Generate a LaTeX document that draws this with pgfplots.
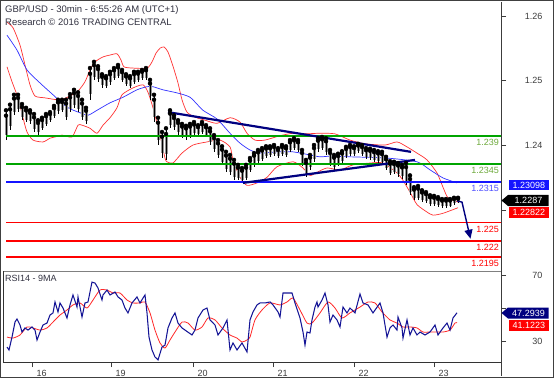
\documentclass[border=0pt]{standalone}
\usepackage{pgfplots}
\usepackage{pgfplotstable}
\pgfplotsset{compat=1.18}
\usepackage{fontspec}
\setmainfont{Liberation Sans}
\usetikzlibrary{arrows.meta}
\definecolor{lvgreen}{RGB}{0,165,0}
\definecolor{lvgreentxt}{RGB}{110,170,60}
\definecolor{lvred}{RGB}{255,0,0}
\definecolor{lvblue}{RGB}{20,20,255}
\definecolor{lvbluetxt}{RGB}{80,80,255}
\definecolor{navy}{RGB}{0,0,128}
\definecolor{bandred}{RGB}{255,50,50}
\definecolor{mablue}{RGB}{50,50,255}
\definecolor{rsiblue}{RGB}{20,20,150}
\definecolor{rsired}{RGB}{255,40,40}
\definecolor{txtdark}{RGB}{50,50,65}
\definecolor{tickgray}{RGB}{60,60,60}
\definecolor{candlegray}{RGB}{150,150,150}

\pgfplotstableread{
t h l
6 1.2431 1.2383
10 1.2440 1.2399
14 1.2456 1.2423
18 1.2456 1.2428
22 1.2441 1.2415
26 1.2435 1.2412
30 1.2431 1.2409
34 1.2425 1.2396
38 1.2415 1.2391
42 1.2419 1.2399
46 1.2425 1.2406
50 1.2428 1.2412
54 1.2438 1.2419
58 1.2448 1.2425
62 1.2448 1.2428
66 1.2448 1.2415
70 1.2457 1.2428
74 1.2464 1.2435
78 1.2460 1.2428
82 1.2448 1.2415
86 1.2435 1.2409
90 1.2499 1.2448
94 1.2509 1.2480
98 1.2502 1.2477
102 1.2489 1.2467
106 1.2486 1.2467
110 1.2493 1.2472
114 1.2499 1.2480
118 1.2504 1.2483
122 1.2496 1.2477
126 1.2489 1.2470
130 1.2486 1.2467
134 1.2493 1.2473
138 1.2493 1.2477
142 1.2496 1.2480
146 1.2499 1.2480
150 1.2480 1.2448
154 1.2456 1.2412
158 1.2419 1.2375
162 1.2396 1.2354
166 1.2402 1.2351
170 1.2431 1.2402
174 1.2423 1.2399
178 1.2415 1.2391
182 1.2409 1.2386
186 1.2406 1.2383
190 1.2409 1.2386
194 1.2412 1.2391
198 1.2407 1.2390
202 1.2412 1.2393
206 1.2407 1.2388
210 1.2402 1.2375
214 1.2391 1.2364
218 1.2383 1.2354
222 1.2373 1.2343
226 1.2364 1.2331
230 1.2359 1.2326
234 1.2351 1.2318
238 1.2343 1.2318
242 1.2338 1.2314
246 1.2343 1.2318
250 1.2354 1.2331
254 1.2362 1.2340
258 1.2367 1.2346
262 1.2370 1.2349
266 1.2373 1.2354
270 1.2373 1.2356
274 1.2375 1.2357
278 1.2370 1.2354
282 1.2375 1.2357
286 1.2373 1.2356
290 1.2383 1.2364
294 1.2386 1.2367
298 1.2383 1.2364
302 1.2367 1.2341
306 1.2351 1.2324
310 1.2359 1.2335
314 1.2375 1.2348
318 1.2386 1.2364
322 1.2388 1.2367
326 1.2386 1.2359
330 1.2367 1.2341
334 1.2359 1.2335
338 1.2361 1.2341
342 1.2365 1.2346
346 1.2372 1.2354
350 1.2375 1.2357
354 1.2373 1.2357
358 1.2377 1.2362
362 1.2375 1.2357
366 1.2370 1.2352
370 1.2369 1.2351
374 1.2367 1.2348
378 1.2365 1.2346
382 1.2364 1.2344
386 1.2356 1.2335
390 1.2349 1.2326
394 1.2348 1.2328
398 1.2346 1.2324
402 1.2343 1.2321
406 1.2346 1.2310
410 1.2326 1.2294
414 1.2307 1.2286
418 1.2309 1.2286
422 1.2302 1.2283
426 1.2299 1.2282
430 1.2294 1.2277
434 1.2293 1.2277
438 1.2291 1.2275
442 1.2288 1.2274
446 1.2288 1.2274
450 1.2288 1.2275
454 1.2290 1.2279
458 1.2290 1.2282
}\bars

\pgfplotstableread{
t v
7 1.2573
13 1.2564
20 1.2536
25 1.2504
30 1.2472
35 1.2454
45 1.2451
57 1.2448
63 1.2449
70 1.2454
78 1.2462
85 1.2477
90 1.2496
95 1.2509
103 1.2517
110 1.2520
117 1.2522
121 1.2512
124 1.2501
133 1.2499
147 1.2499
152 1.2509
156 1.2523
160 1.2531
164 1.2533
168 1.2525
173 1.2502
178 1.2475
182 1.2448
187 1.2428
195 1.2420
205 1.2415
217 1.2410
230 1.2419
240 1.2412
247 1.2394
255 1.2383
265 1.2383
280 1.2390
293 1.2394
305 1.2393
320 1.2394
335 1.2393
350 1.2383
365 1.2377
385 1.2375
397 1.2380
407 1.2372
417 1.2362
427 1.2351
437 1.2330
443 1.2307
448 1.2290
458 1.2283
}\bbup

\pgfplotstableread{
t v
7 1.2501
12 1.2477
18 1.2451
23 1.2419
27 1.2396
33 1.2383
43 1.2380
50 1.2386
55 1.2388
62 1.2391
72 1.2388
78 1.2407
82 1.2407
90 1.2402
97 1.2394
103 1.2407
110 1.2419
117 1.2435
122 1.2456
133 1.2467
143 1.2472
148 1.2460
153 1.2435
160 1.2391
165 1.2354
167 1.2348
173 1.2346
182 1.2362
193 1.2375
207 1.2380
220 1.2383
230 1.2372
233 1.2351
240 1.2323
247 1.2310
257 1.2314
267 1.2323
277 1.2340
293 1.2348
303 1.2338
310 1.2326
317 1.2331
327 1.2338
340 1.2335
353 1.2343
370 1.2346
383 1.2346
397 1.2330
403 1.2318
410 1.2299
417 1.2279
427 1.2267
433 1.2262
443 1.2265
458 1.2274
}\bblo

\pgfplotstableread{
t v
7 1.2552
17 1.2528
27 1.2496
40 1.2475
53 1.2456
67 1.2436
80 1.2427
88 1.2423
97 1.2431
110 1.2443
123 1.2452
137 1.2464
147 1.2469
153 1.2469
163 1.2464
177 1.2459
190 1.2452
203 1.2431
217 1.2417
230 1.2394
240 1.2378
250 1.2367
260 1.2362
277 1.2364
293 1.2364
310 1.2359
320 1.2356
330 1.2357
350 1.2356
387 1.2354
417 1.2348
430 1.2335
443 1.2322
457 1.2314
}\ma

\pgfplotstableread{
t v
7 26.3
9 24.5
12 32.4
15 41.6
17 43.5
20 39.8
22 35.5
25 38.0
28 36.7
32 38.6
35 36.7
37 30.6
40 35.5
43 39.8
47 41.0
50 45.9
53 47.2
55 53.9
58 47.8
60 53.3
63 50.2
67 44.1
70 52.1
73 58.2
77 50.8
78 57.0
82 44.7
85 53.3
88 53.9
92 66.1
95 65.5
98 62.5
102 55.1
103 58.2
107 61.2
110 58.2
115 60.0
118 57.0
122 55.1
125 50.2
128 47.2
132 53.3
137 57.0
140 53.3
143 56.3
145 58.2
147 47.2
149 32.4
152 24.5
155 20.2
158 18.4
162 26.3
165 27.5
168 38.0
172 44.1
175 47.2
178 41.0
182 38.0
185 36.7
192 33.7
195 36.7
198 44.1
203 49.0
207 50.2
210 42.9
215 39.8
218 33.7
223 38.0
227 42.9
230 24.5
233 28.8
237 24.5
242 28.8
247 23.3
250 42.9
253 47.8
257 52.1
260 53.3
265 53.3
270 53.9
273 52.1
278 47.8
280 44.7
283 59.4
287 59.4
292 59.4
295 53.3
300 44.1
303 35.5
305 27.5
307 35.5
310 34.9
312 42.9
315 50.8
317 53.9
318 50.8
322 55.1
325 59.4
328 52.1
330 41.6
333 45.9
337 42.9
340 38.6
343 50.8
347 47.2
350 50.2
355 47.2
360 58.8
363 53.3
368 52.1
373 47.2
380 53.3
383 47.2
387 32.4
390 38.0
393 39.8
397 36.7
398 44.7
402 38.0
403 31.8
407 42.9
410 33.7
413 38.0
417 33.7
420 35.5
425 33.7
430 35.5
435 39.8
438 33.7
443 38.0
447 41.0
450 36.7
453 44.1
457 47.29
}\rsi

\pgfplotstableread{
t v
7 32.4
13 31.8
20 33.7
27 38.6
33 38.0
40 36.7
47 38.0
53 41.6
60 45.9
67 49.0
73 52.1
80 53.3
87 50.2
93 55.1
100 61.2
107 61.2
113 59.4
120 59.4
127 55.1
133 53.3
140 53.3
145 53.9
150 47.2
155 36.7
160 28.8
165 25.7
170 30.6
175 35.5
182 41.6
188 41.0
195 36.7
202 38.6
208 44.1
215 42.9
222 38.0
230 33.7
237 31.8
242 29.4
247 30.6
250 32.4
255 42.9
262 49.0
270 53.3
280 52.1
287 53.9
293 56.3
300 49.0
307 41.0
312 41.0
320 47.2
328 53.9
335 50.2
342 44.1
350 47.2
360 50.8
368 53.9
375 53.3
382 47.8
390 42.9
397 41.0
403 38.6
410 38.6
417 38.0
423 35.5
430 35.5
437 35.5
443 35.5
450 36.7
455 41.0
457 41.12
}\rsima

\begin{document}
\begin{tikzpicture}[x=1pt,y=1pt]
\useasboundingbox (0,0) rectangle (554,378);
\fill[white] (0,0) rectangle (554,378);

% ---------------- main price panel ----------------
\begin{axis}[
  at={(3pt,107pt)}, anchor=south west, scale only axis,
  width=498pt, height=269pt,
  xmin=3, xmax=501, ymin=1.21720, ymax=1.26055,
  axis line style={draw=none},
  xtick=\empty,
  ytick={1.2270,1.2375,1.2479,1.2583},
  yticklabels={,1.24,1.25,1.26},
  ytick pos=right, yticklabel pos=right,
  tick align=outside, major tick length=5pt,
  tick style={tickgray, line width=0.6pt},
  yticklabel style={font=\fontsize{9}{10}\selectfont, text=tickgray, anchor=east, xshift=40pt},
  /pgf/number format/assume math mode=true,
]
\addplot[bandred, line width=0.7pt, smooth, tension=0.4] table[x=t, y=v] {\bbup};
\addplot[bandred, line width=0.7pt, smooth, tension=0.4] table[x=t, y=v] {\bblo};
\addplot[mablue, line width=0.7pt, smooth, tension=0.4] table[x=t, y=v] {\ma};
\addplot[only marks, mark=none, error bars/.cd, y dir=minus, y explicit, error mark=none,
  error bar style={draw=candlegray, line width=3pt}]
  table[x=t, y expr=\thisrow{h}-0.18*(\thisrow{h}-\thisrow{l}), y error minus expr=0.64*(\thisrow{h}-\thisrow{l})] {\bars};
\addplot[only marks, mark=none, error bars/.cd, y dir=minus, y explicit, error mark=none,
  error bar style={draw=black, line width=0.45pt}]
  table[x=t, y=h, y error minus expr=\thisrow{h}-\thisrow{l}] {\bars};
\addplot[lvgreen, line width=2pt] coordinates {(6,1.239) (501,1.239)};
\addplot[lvgreen, line width=2pt] coordinates {(6,1.2345) (501,1.2345)};
\addplot[lvblue, line width=1.6pt] coordinates {(6,1.2315) (501,1.2315)};
\addplot[lvred, line width=1.8pt] coordinates {(6,1.225) (501,1.225)};
\addplot[lvred, line width=1.8pt] coordinates {(6,1.222) (501,1.222)};
\addplot[lvred, line width=1.8pt] coordinates {(6,1.2195) (501,1.2195)};
\addplot[navy, line width=2.2pt] coordinates {(168,1.2428) (411,1.2364)};
\addplot[navy, line width=2.2pt] coordinates {(243,1.2314) (415,1.2351)};
\draw[navy, line width=1.4pt, -{Triangle[width=8pt,length=9pt]}]
  (axis cs:457,1.2285) -- (axis cs:462,1.2283) -- (axis cs:470.5,1.2224);
\begin{scope}[every node/.style={anchor=north east, inner sep=0pt, font=\fontsize{9}{10}\selectfont}]
\node[text=lvgreentxt] at (axis cs:499,1.239) [yshift=-3pt] {1.239};
\node[text=lvgreentxt] at (axis cs:499,1.2345) [yshift=-3pt] {1.2345};
\node[text=lvbluetxt] at (axis cs:499,1.2315) [yshift=-3pt] {1.2315};
\node[text=lvred] at (axis cs:499,1.225) [yshift=-3pt] {1.225};
\node[text=lvred] at (axis cs:499,1.222) [yshift=-3pt] {1.222};
\node[text=lvred] at (axis cs:499,1.2195) [yshift=-3pt] {1.2195};
\end{scope}
\end{axis}

% ---------------- RSI panel ----------------
\begin{axis}[
  at={(3pt,16pt)}, anchor=south west, scale only axis,
  width=498pt, height=91pt,
  xmin=3, xmax=501, ymin=17.14, ymax=72.88,
  axis line style={draw=none},
  xtick={32,111,193,273,354,434},
  xticklabels={16,19,20,21,22,23},
  xtick pos=bottom, xticklabel pos=bottom,
  ytick={30,50,70}, yticklabels={30,,70},
  ytick pos=right, yticklabel pos=right,
  tick align=outside, major tick length=5pt,
  tick style={tickgray, line width=0.6pt},
  xticklabel style={font=\fontsize{9}{10}\selectfont, text=tickgray, anchor=north west, xshift=1pt},
  yticklabel style={font=\fontsize{9}{10}\selectfont, text=tickgray, anchor=east, xshift=40pt},
  /pgf/number format/assume math mode=true,
]
\addplot[rsired, line width=0.8pt, smooth, tension=0.4] table[x=t, y=v] {\rsima};
\addplot[rsiblue, line width=1.05pt] table[x=t, y=v] {\rsi};
\end{axis}

\draw[black!75, line width=0.8pt] (0.4,0.4) rectangle (553.6,377.6);
\draw[tickgray, line width=0.8pt] (501,376) -- (501,2);
\draw[gray, line width=0.8pt] (3,107) -- (501,107);
\draw[black!80, line width=0.7pt] (3,16) -- (501,16);
\draw[black!80, line width=0.7pt] (3,16) -- (3,107);

\node[anchor=west, inner sep=0pt, text=txtdark, font=\fontsize{9.5}{11}\selectfont] at (5,367.5) {GBP/USD - 30min - 6:55:26 AM (UTC+1)};
\node[anchor=west, inner sep=0pt, text=txtdark, font=\fontsize{9.5}{11}\selectfont] at (5,355.5) {Research © 2016 TRADING CENTRAL};
\node[anchor=west, inner sep=0pt, text=txtdark, font=\fontsize{9}{10}\selectfont] at (5,99.5) {RSI14 - 9MA};

\fill[lvblue] (509,198) rectangle (548.5,187.5);
\node[text=white, font=\fontsize{9}{10}\selectfont, inner sep=0pt] at (528.8,192.7) {1.23098};
\fill[black] (501.5,177.5) -- (508,183) -- (548.5,183) -- (548.5,172) -- (508,172) -- cycle;
\node[text=white, font=\fontsize{9}{10}\selectfont, inner sep=0pt] at (528.5,177.5) {1.2287};
\fill[lvred] (509,171) rectangle (548.5,160.5);
\node[text=white, font=\fontsize{9}{10}\selectfont, inner sep=0pt] at (528.8,165.7) {1.22822};
\fill[navy] (501.5,65) -- (508,70.5) -- (548.5,70.5) -- (548.5,59.5) -- (508,59.5) -- cycle;
\node[text=white, font=\fontsize{9}{10}\selectfont, inner sep=0pt] at (528.5,65) {47.2939};
\fill[lvred] (509,58) rectangle (548.5,47);
\node[text=white, font=\fontsize{9}{10}\selectfont, inner sep=0pt] at (528.8,52.5) {41.1223};
\end{tikzpicture}
\end{document}
